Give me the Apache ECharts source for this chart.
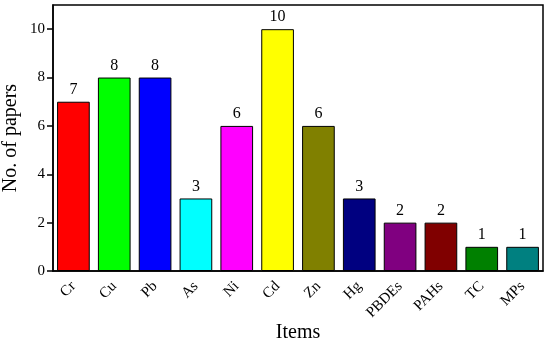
<!DOCTYPE html>
<html><head><meta charset="utf-8">
<script src="https://cdn.jsdelivr.net/npm/echarts@6/dist/echarts.min.js"></script>
<style>html,body{margin:0;padding:0;background:#fff}#c{width:550px;height:345px}</style>
</head><body><div id="c"></div>
<script>
const categories = ['Cr','Cu','Pb','As','Ni','Cd','Zn','Hg','PBDEs','PAHs','TC','MPs'];
const values = [7,8,8,3,6,10,6,3,2,2,1,1];
const colors = ['#ff0000','#00ff00','#0000ff','#00ffff','#ff00ff','#ffff00','#808000','#000080','#800080','#800000','#008000','#008080'];
const font = 'Liberation Serif, Times New Roman, serif';
const chart = echarts.init(document.getElementById('c'));
chart.setOption({
  animation: false,
  grid: {left: 53, right: 7, top: 5, bottom: 74, containLabel: false, outerBoundsMode: 'none', show: true, borderColor: '#000', borderWidth: 1.5, backgroundColor: 'transparent'},
  xAxis: {
    type: 'category', data: categories,
    name: 'Items', nameLocation: 'middle', nameGap: 52, nameMoveOverlap: false,
    nameTextStyle: {fontFamily: font, fontSize: 20, color: '#000'},
    axisLine: {lineStyle: {color: '#000', width: 1.5}},
    axisTick: {alignWithLabel: true, length: 6, lineStyle: {color: '#000', width: 1.5}},
    axisLabel: {rotate: 45, fontFamily: font, fontSize: 15, color: '#000', margin: 13, interval: 0}
  },
  yAxis: {
    type: 'value', min: 0, max: 11, interval: 2,
    name: 'No. of papers', nameLocation: 'middle', nameGap: 32, nameMoveOverlap: false,
    nameTextStyle: {fontFamily: font, fontSize: 20, color: '#000'},
    axisLine: {show: true, lineStyle: {color: '#000', width: 1.5}},
    axisTick: {show: true, length: 6, lineStyle: {color: '#000', width: 1.5}},
    axisLabel: {fontFamily: font, fontSize: 15, color: '#000', margin: 8, showMaxLabel: false},
    splitLine: {show: false}
  },
  series: [{
    type: 'bar', barWidth: '80%',
    data: values.map((v, i) => ({value: v, itemStyle: {color: colors[i]}})),
    itemStyle: {borderColor: '#000', borderWidth: 1},
    label: {show: true, position: 'top', fontFamily: font, fontSize: 16, color: '#000', distance: 4}
  }]
});
</script></body></html>
